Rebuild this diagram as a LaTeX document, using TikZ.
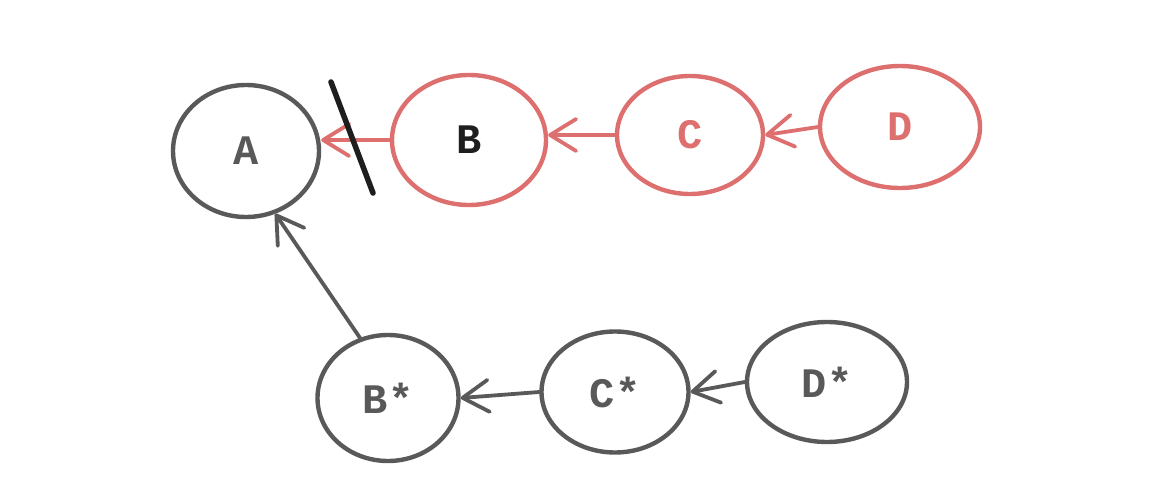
\documentclass[tikz,border=0pt]{standalone}
\usepackage{fontspec}
\setmainfont{Liberation Mono}
\usetikzlibrary{shapes.geometric,arrows.meta}
\definecolor{sketchgray}{HTML}{595959}
\definecolor{sketchred}{HTML}{DE6F6F}
\definecolor{sketchblack}{HTML}{1E1E1E}
\tikzset{
  circ/.style={ellipse, draw=#1, line width=4.4pt, inner sep=0pt, font=\bfseries\fontsize{42}{42}\selectfont},
  arr/.style={draw=#1, line width=3.8pt, line cap=round, -{Straight Barb[length=26pt,width=32pt,line width=3.8pt, round]}},
}
\begin{document}
\begin{tikzpicture}[x=1pt,y=-1pt]
\useasboundingbox (0,0) rectangle (1156,494);
\node[circ=sketchgray, minimum width=146pt, minimum height=132pt, text=sketchgray] (A) at (246,151) {A};
\node[circ=sketchred, minimum width=154pt, minimum height=130pt, text=sketchblack] (B) at (469,140) {B};
\node[circ=sketchred, minimum width=146pt, minimum height=118pt, text=sketchred] (C) at (690,135) {C};
\node[circ=sketchred, minimum width=160pt, minimum height=122pt, text=sketchred] (D) at (900,127) {D};
\node[circ=sketchgray, minimum width=141pt, minimum height=126pt, text=sketchgray] (Bs) at (388,398) {B*};
\node[circ=sketchgray, minimum width=147pt, minimum height=121pt, text=sketchgray] (Cs) at (615,392) {C*};
\node[circ=sketchgray, minimum width=160pt, minimum height=120pt, text=sketchgray] (Ds) at (827,382) {D*};
\draw[arr=sketchred] (B.west) -- (A.east |- B.west);
\draw[arr=sketchred] (C.west) -- (B.east |- C.west);
\draw[arr=sketchred] (D.west) -- (C.east);
\draw[arr=sketchgray] (Bs.115) -- (A.295);
\draw[arr=sketchgray] (Cs.west) -- (Bs.east);
\draw[arr=sketchgray] (Ds.west) -- (Cs.east);
\coordinate (s1) at (331,82);
\coordinate (s2) at (373,193);
\draw[sketchblack, line width=5.5pt, line cap=round] (s1) -- (s2);
\end{tikzpicture}
\end{document}
